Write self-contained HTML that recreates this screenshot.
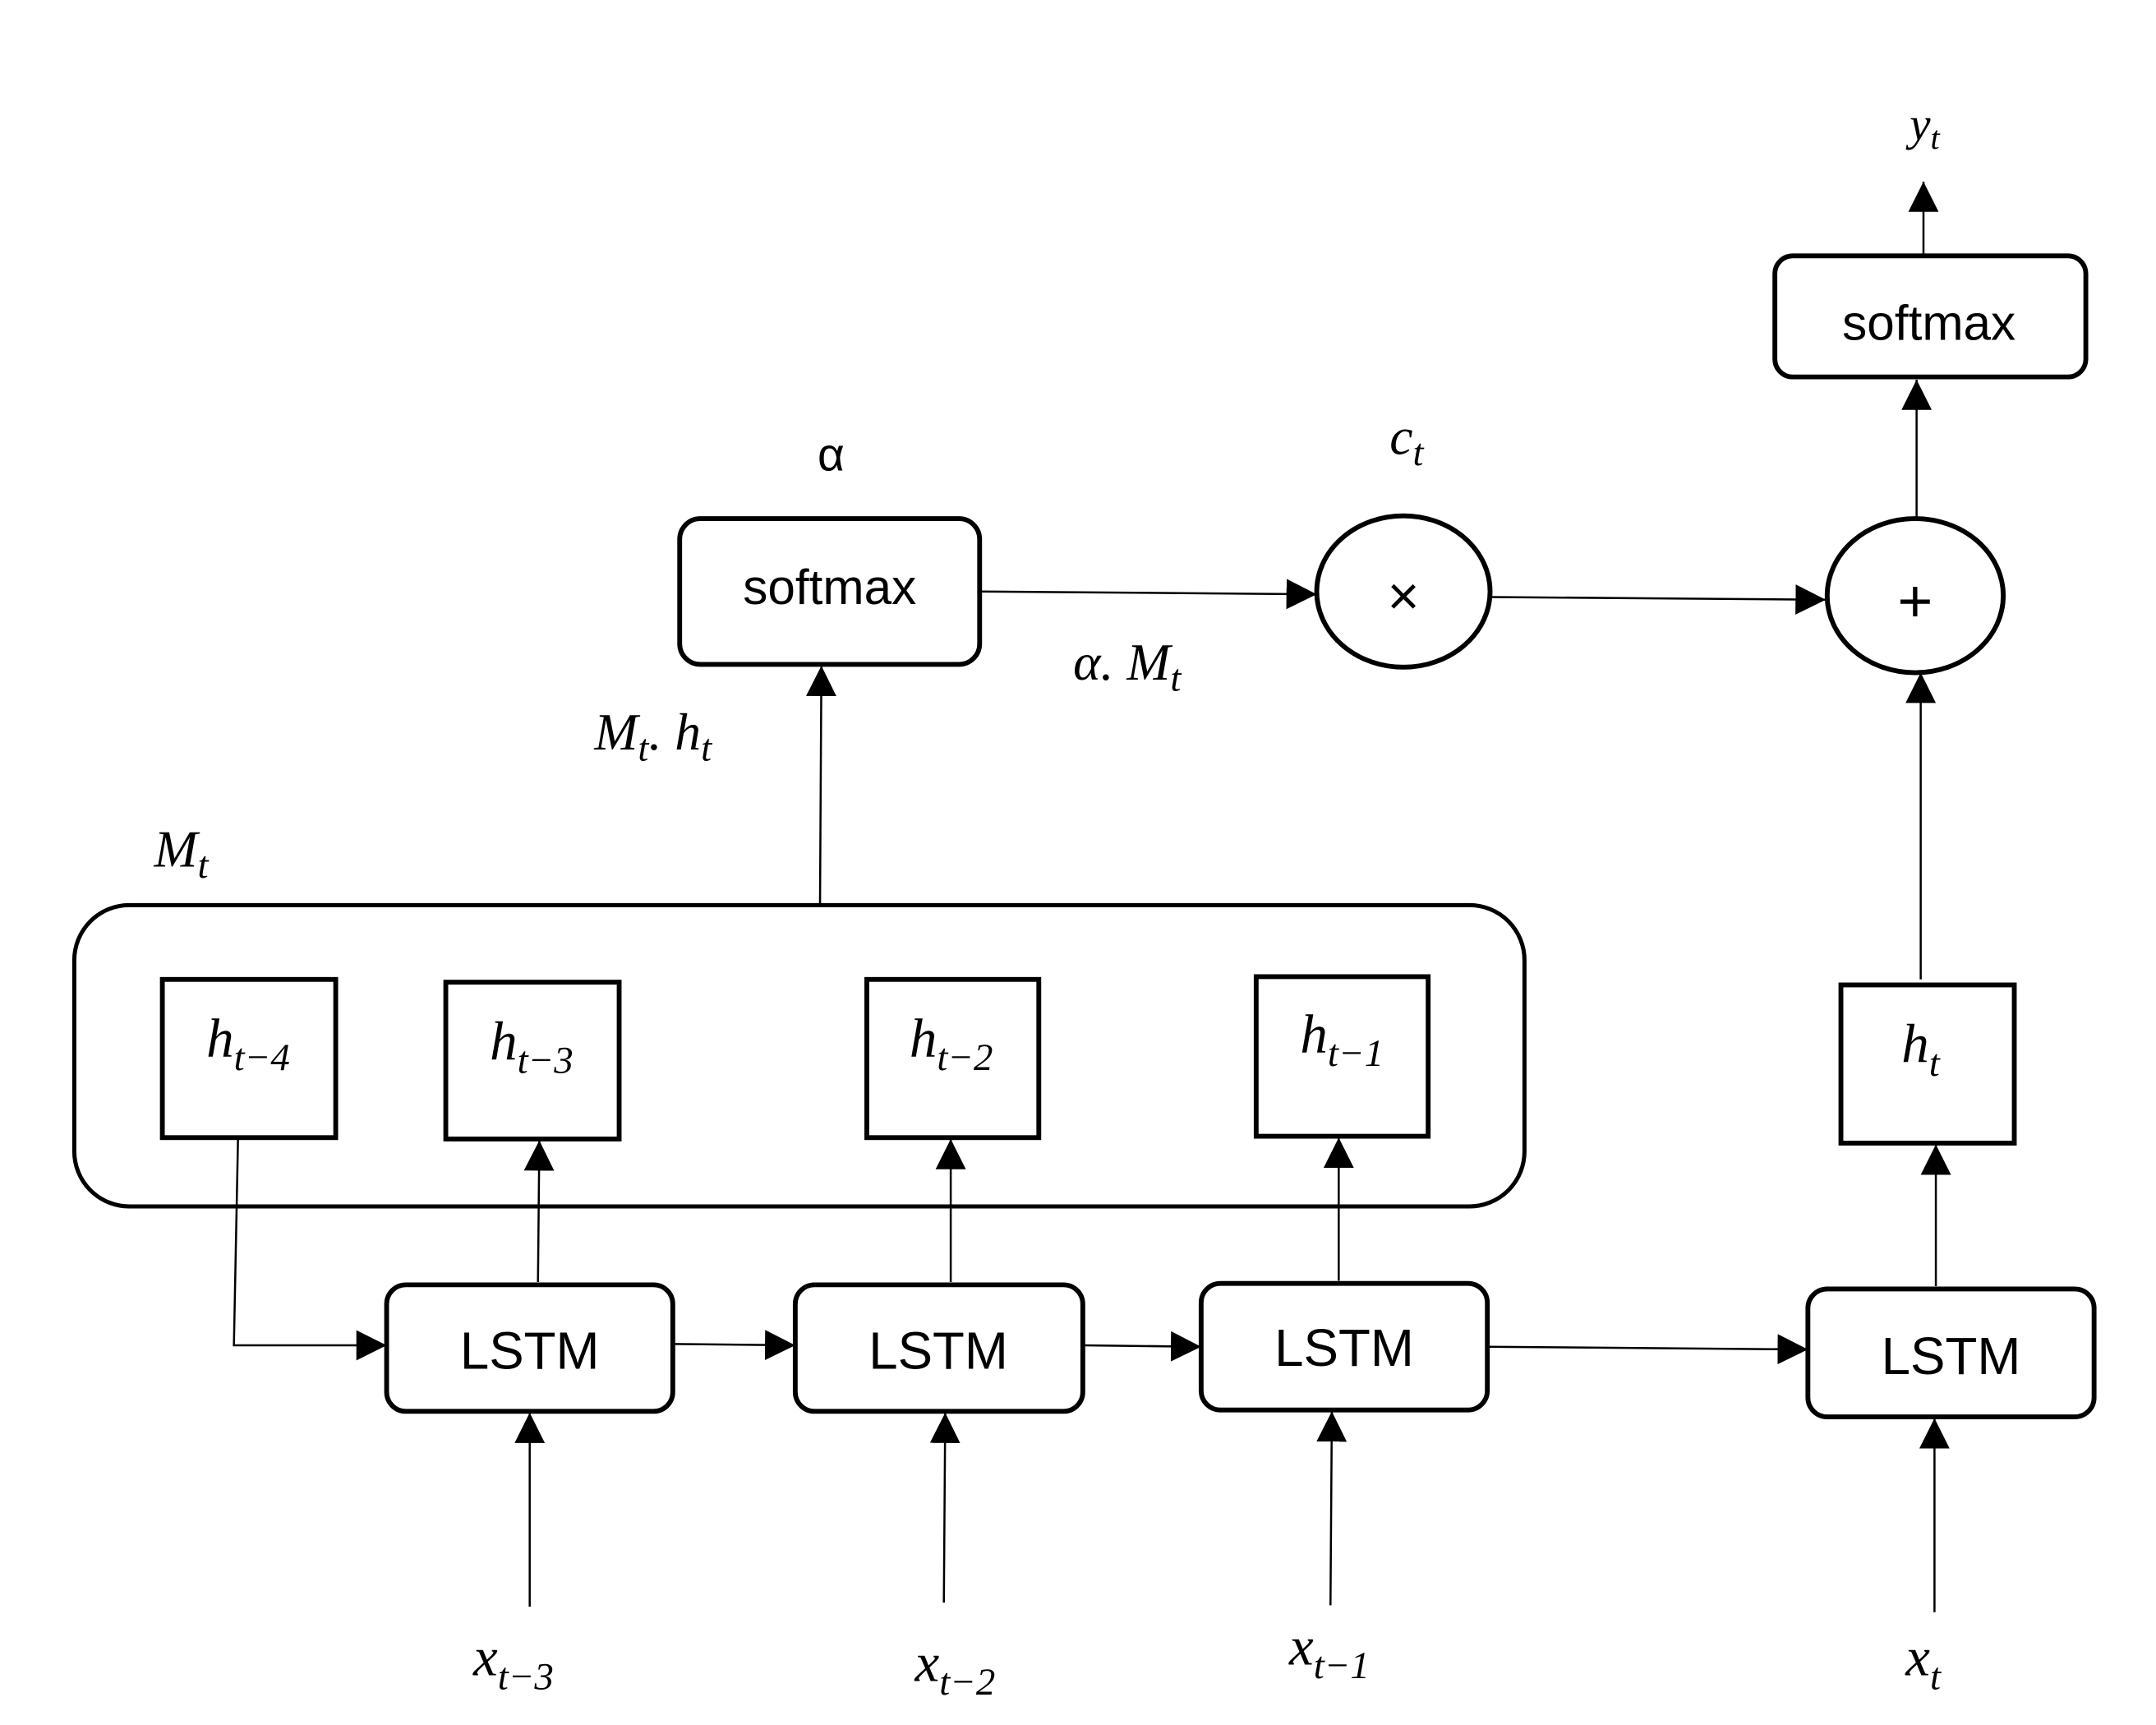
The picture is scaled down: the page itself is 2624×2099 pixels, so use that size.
<!DOCTYPE html>
<html><head><meta charset="utf-8"><style>
html,body{margin:0;padding:0;background:#fff;}
svg{display:block}
.m{font-family:"Liberation Serif",serif;font-style:italic;fill:#000}
.s{font-family:"Liberation Sans",sans-serif;fill:#000}
</style></head><body>
<svg width="2624" height="2099" viewBox="0 0 1567 1254" preserveAspectRatio="none" xmlns="http://www.w3.org/2000/svg">
<defs>
<marker id="a" markerWidth="24" markerHeight="24" refX="22" refY="11" orient="auto" markerUnits="userSpaceOnUse">
<path d="M0,0 L22,11 L0,22 Z" fill="#000"/></marker>
</defs>
<g fill="none" stroke="#000" stroke-width="3.5">
<rect x="1290" y="186" width="226" height="88" rx="13"/>
<ellipse cx="1392" cy="433" rx="64" ry="56"/>
<ellipse cx="1020" cy="430" rx="63" ry="55"/>
<rect x="494" y="377" width="218" height="106" rx="15"/>
<rect x="54" y="658" width="1054" height="219" rx="40" stroke-width="3"/>
<rect x="118" y="712" width="126" height="115"/>
<rect x="324" y="714" width="126" height="114"/>
<rect x="630" y="712" width="125" height="115"/>
<rect x="913" y="710" width="125" height="116"/>
<rect x="1338" y="716" width="126" height="115"/>
<rect x="281" y="934" width="208" height="92" rx="14"/>
<rect x="578" y="934" width="209" height="92" rx="14"/>
<rect x="873" y="933" width="208" height="92" rx="14"/>
<rect x="1314" y="937" width="208" height="93" rx="14"/>
</g>
<g stroke="#000" stroke-width="1.5" fill="none" marker-end="url(#a)">
<line x1="1398" y1="185" x2="1398" y2="132"/>
<line x1="1393" y1="377" x2="1393" y2="276"/>
<line x1="712" y1="430" x2="957" y2="432"/>
<line x1="1084" y1="434" x2="1327" y2="436"/>
<line x1="596" y1="657" x2="597" y2="484"/>
<polyline points="173,827 170,978 281,978"/>
<line x1="489" y1="977" x2="578" y2="978"/>
<line x1="787" y1="978" x2="873" y2="979"/>
<line x1="1081" y1="979" x2="1314" y2="981"/>
<line x1="391" y1="932" x2="392" y2="829"/>
<line x1="691" y1="932" x2="691" y2="828"/>
<line x1="973" y1="931" x2="973" y2="827"/>
<line x1="1407" y1="935" x2="1407" y2="832"/>
<line x1="1396" y1="712" x2="1396" y2="489"/>
<line x1="385" y1="1168" x2="385" y2="1027"/>
<line x1="686" y1="1165" x2="687" y2="1027"/>
<line x1="967" y1="1167" x2="968" y2="1026"/>
<line x1="1406" y1="1172" x2="1406" y2="1031"/>
</g>
<g class="s" font-size="36" text-anchor="middle">
<text x="1402" y="247">softmax</text>
<text x="603" y="439">softmax</text>
<text x="385" y="995" font-size="38">LSTM</text>
<text x="682" y="995" font-size="38">LSTM</text>
<text x="977" y="993" font-size="38">LSTM</text>
<text x="1418" y="999" font-size="38">LSTM</text>
<text x="1020" y="447" font-size="40">×</text>
<text x="1392" y="452" font-size="44">+</text>
<text x="604" y="342" font-size="34">α</text>
</g>
<g class="m" font-size="38">
<text x="1388" y="102" font-size="34">y<tspan font-size="24" dy="6">t</tspan></text>
<text x="1010" y="330">c<tspan font-size="28" dy="8">t</tspan></text>
<text x="780" y="494">α. M<tspan font-size="28" dy="8">t</tspan></text>
<text x="432" y="545">M<tspan font-size="28" dy="8">t</tspan><tspan dy="-8">. h</tspan><tspan font-size="28" dy="8">t</tspan></text>
<text x="112" y="630">M<tspan font-size="28" dy="8">t</tspan></text>
<text x="150" y="768" font-size="40">h<tspan font-size="28" dy="10">t−4</tspan></text>
<text x="356" y="770" font-size="40">h<tspan font-size="28" dy="10">t−3</tspan></text>
<text x="661" y="768" font-size="40">h<tspan font-size="28" dy="10">t−2</tspan></text>
<text x="945" y="765" font-size="40">h<tspan font-size="28" dy="10">t−1</tspan></text>
<text x="1382" y="772" font-size="40">h<tspan font-size="28" dy="10">t</tspan></text>
<text x="344" y="1218" font-size="40">x<tspan font-size="28" dy="10">t−3</tspan></text>
<text x="665" y="1222" font-size="40">x<tspan font-size="28" dy="10">t−2</tspan></text>
<text x="937" y="1210" font-size="40">x<tspan font-size="28" dy="10">t−1</tspan></text>
<text x="1385" y="1218" font-size="40">x<tspan font-size="28" dy="10">t</tspan></text>
</g>
</svg>
</body></html>
